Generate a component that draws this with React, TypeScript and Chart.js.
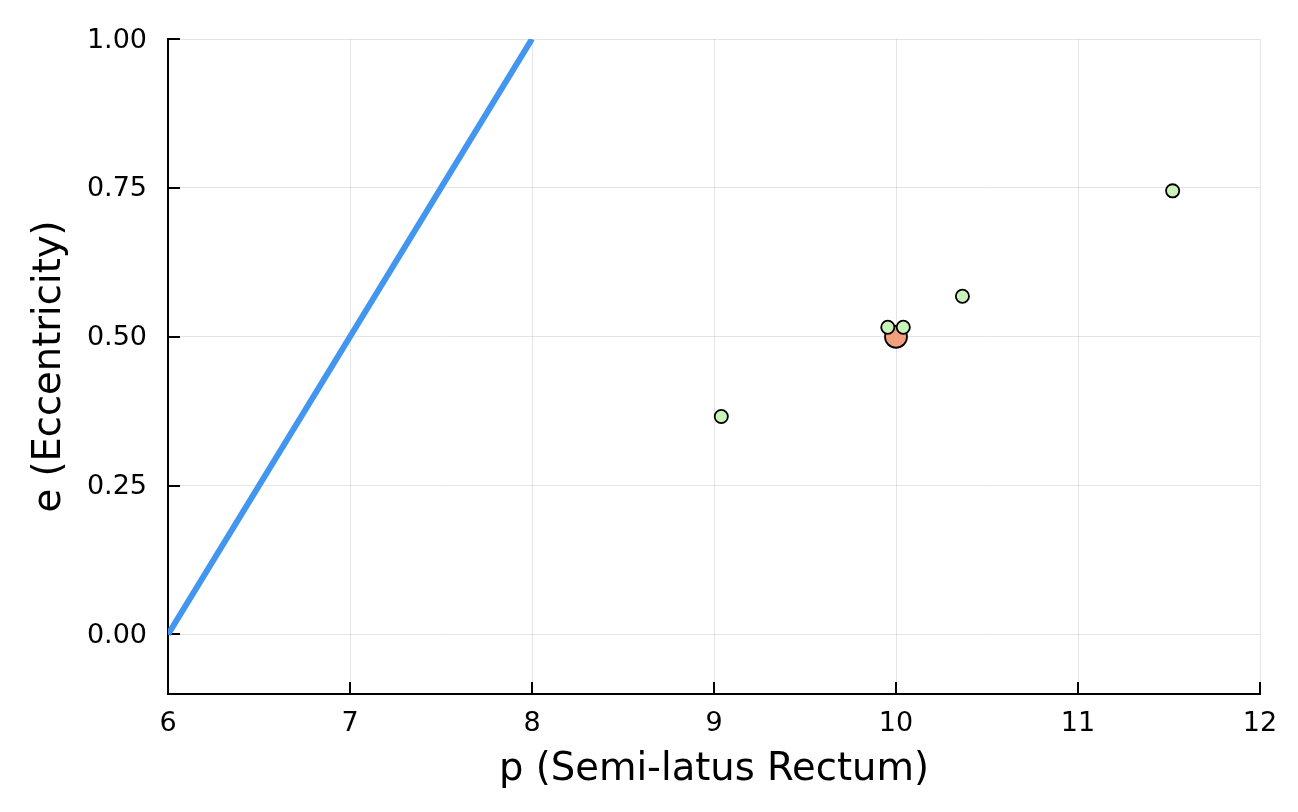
import React, { useEffect, useRef } from "react";
import { Chart, registerables } from "chart.js";

Chart.register(...registerables);

// Separatrix line (p = 6 + 2e)
const lineP = [6, 8];
const lineE = [0, 1];

// Reference orbit
const refP = [10.0];
const refE = [0.5];

// Sampled orbits
const sampleP = [9.04, 9.955, 10.04, 10.365, 11.52];
const sampleE = [0.366, 0.516, 0.516, 0.568, 0.745];

const xTicks = [6, 7, 8, 9, 10, 11, 12];
const yTicks = [0, 0.25, 0.5, 0.75, 1.0];

const FONT = "'DejaVu Sans', sans-serif";

const inwardTicks = {
  id: "inwardTicks",
  beforeDatasetsDraw(chart: any) {
    const { ctx, chartArea, scales } = chart;
    const len = 12;
    ctx.save();
    ctx.strokeStyle = "#000";
    ctx.lineWidth = 2;
    ctx.beginPath();
    for (const v of xTicks) {
      const px = Math.round(scales.x.getPixelForValue(v));
      ctx.moveTo(px, chartArea.bottom);
      ctx.lineTo(px, chartArea.bottom - len);
    }
    for (const v of yTicks) {
      const py = Math.round(scales.y.getPixelForValue(v));
      ctx.moveTo(chartArea.left, py);
      ctx.lineTo(chartArea.left + len, py);
    }
    ctx.stroke();
    ctx.restore();
  },
};

export default function App() {
  const ref = useRef<HTMLCanvasElement | null>(null);

  useEffect(() => {
    if (!ref.current) return;
    const chart = new Chart(ref.current, {
      type: "scatter",
      data: {
        datasets: [
          {
            type: "line",
            data: lineP.map((p, i) => ({ x: p, y: lineE[i] })),
            borderColor: "#4396ef",
            borderWidth: 6,
            pointRadius: 0,
            fill: false,
            order: 2,
          } as any,
          {
            data: refP.map((p, i) => ({ x: p, y: refE[i] })),
            backgroundColor: "#f2a07c",
            borderColor: "#000",
            borderWidth: 1.8,
            pointRadius: 11,
            order: 1,
          },
          {
            data: sampleP.map((p, i) => ({ x: p, y: sampleE[i] })),
            backgroundColor: "#c9f3bb",
            borderColor: "#000",
            borderWidth: 1.8,
            pointRadius: 6.6,
            order: 0,
          },
        ],
      },
      options: {
        responsive: false,
        animation: false,
        devicePixelRatio: 1,
        layout: {
          autoPadding: false,
          padding: { top: 39, right: 38, left: 0, bottom: 0 },
        },
        plugins: {
          legend: { display: false },
          tooltip: { enabled: false },
        },
        scales: {
          x: {
            type: "linear",
            min: 6,
            max: 12,
            afterFit: (s: any) => {
              s.height = 118;
            },
            afterBuildTicks: (s: any) => {
              s.ticks = xTicks.map((v) => ({ value: v }));
            },
            ticks: {
              color: "#000",
              font: { family: FONT, size: 27 },
              padding: 14,
              maxRotation: 0,
              callback: (v: any) => String(v),
            },
            grid: {
              color: "rgba(0,0,0,0.1)",
              lineWidth: 1,
              drawTicks: false,
              tickLength: 0,
            },
            border: { display: true, color: "#000", width: 2 },
            title: {
              display: true,
              text: "p (Semi-latus Rectum)",
              color: "#000",
              font: { family: FONT, size: 38.5 },
              padding: { top: 0, bottom: 19 },
            },
          },
          y: {
            type: "linear",
            min: -0.1,
            max: 1.0,
            afterFit: (s: any) => {
              s.width = 168;
            },
            afterBuildTicks: (s: any) => {
              s.ticks = yTicks.map((v) => ({ value: v }));
            },
            ticks: {
              color: "#000",
              font: { family: FONT, size: 27 },
              padding: 21,
              labelOffset: 1.5,
              callback: (v: any) => Number(v).toFixed(2),
            },
            grid: {
              color: "rgba(0,0,0,0.1)",
              lineWidth: 1,
              drawTicks: false,
              tickLength: 0,
            },
            border: { display: true, color: "#000", width: 2 },
            title: {
              display: true,
              text: "e (Eccentricity)",
              color: "#000",
              font: { family: FONT, size: 38.5 },
              padding: { top: 27, bottom: 0 },
            },
          },
        },
      },
      plugins: [inwardTicks],
    });
    return () => chart.destroy();
  }, []);

  return (
    <div style={{ position: "absolute", left: 0, top: 0, width: 1298, height: 812, background: "#fff" }}>
      <canvas ref={ref} width={1298} height={812} style={{ display: "block" }} />
    </div>
  );
}
